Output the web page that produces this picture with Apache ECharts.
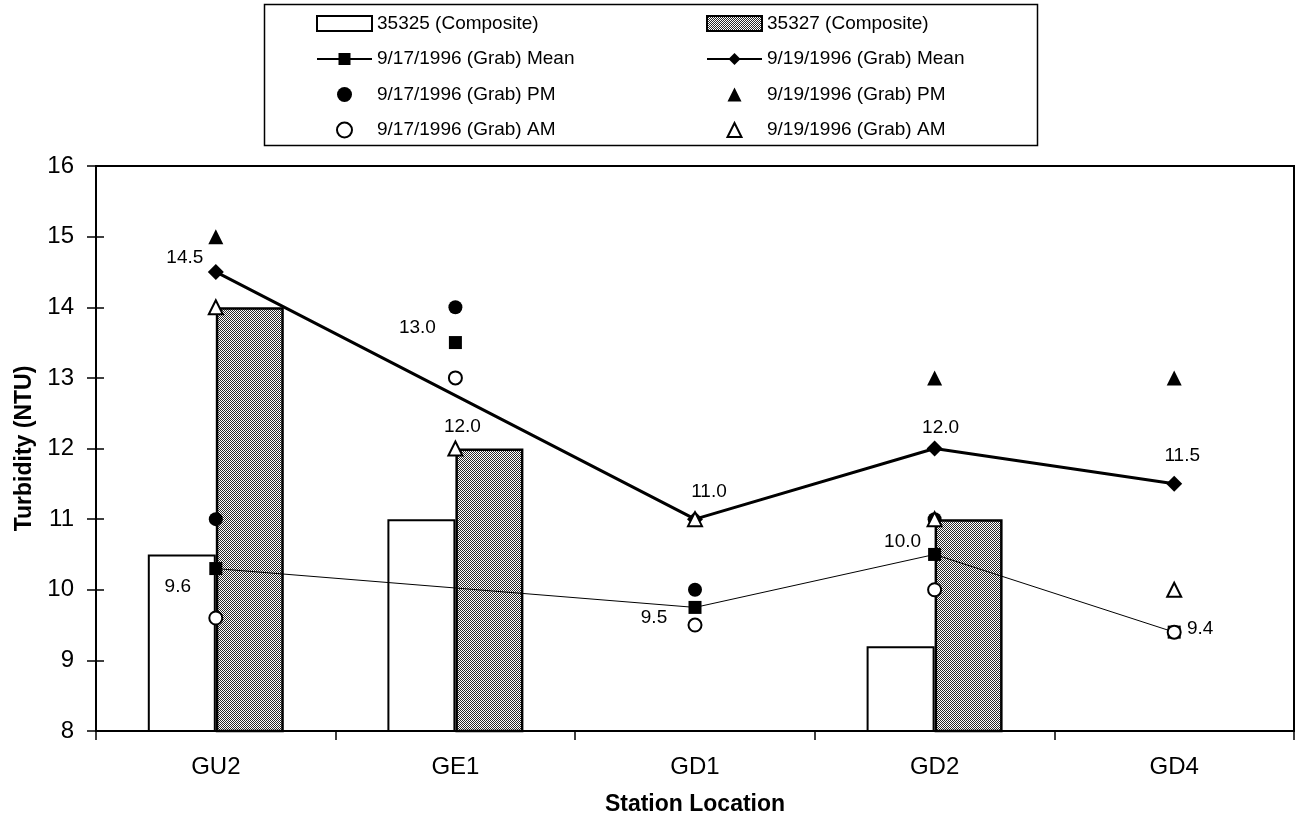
<!DOCTYPE html>
<html>
<head>
<meta charset="utf-8">
<script src="https://cdn.jsdelivr.net/npm/echarts@6/dist/echarts.min.js"></script>
<style>
  html, body { margin: 0; padding: 0; background: #fff; }
  #chart { width: 1299px; height: 821px; }
</style>
</head>
<body>
<div id="chart"></div>
<script>
// Station categories along the x axis
const stations = ['GU2', 'GE1', 'GD1', 'GD2', 'GD4'];

// Composite samples (bars)
const composite35325 = [10.5, 11.0, null, 9.2, null];
const composite35327 = [14.0, 12.0, null, 11.0, null];

// Grab samples, 9/17/1996
const grab0917Mean = [10.3, 13.5, 9.75, 10.5, 9.4];
const grab0917PM = [11.0, 14.0, 10.0, 11.0, null];
const grab0917AM = [9.6, 13.0, 9.5, 10.0, 9.4];

// Grab samples, 9/19/1996
const grab0919Mean = [14.5, null, 11.0, 12.0, 11.5];
const grab0919PM = [15.0, null, null, 13.0, 13.0];
const grab0919AM = [14.0, 12.0, 11.0, 11.0, 10.0];

// Stations whose 9/17 mean is plotted but not joined by the mean line
const grab0917LineSkip = ['GE1'];

// Turbidity axis range
const yMin = 8, yMax = 16, yStep = 1;

// Value-label placement (pixel offsets from the marker centre)
const labelOffsets0917AM = {
  GU2: [-38, -31], GE1: [-38, -50], GD1: [-41, -7], GD2: [-32, -48], GD4: [26, -3]
};
const labelOffsets0919Mean = {
  GU2: [-31, -14], GD1: [14, -27], GD2: [6, -21], GD4: [8, -28]
};
const labelOffsets0919AM = { GE1: [7, -22] };

const FONT = "'Liberation Sans', Arial, sans-serif";

// Fine dotted fill used for the 35327 bars
function hatchPattern() {
  const c = document.createElement('canvas');
  c.width = 4; c.height = 4;
  const g = c.getContext('2d');
  g.fillStyle = '#fff';
  g.fillRect(0, 0, 4, 4);
  g.fillStyle = '#2a2a2a';
  for (let y = 0; y < 4; y++) {
    for (let x = 0; x < 4; x++) {
      if ((x + y) % 2 === 0) g.fillRect(x, y, 1, 1);
    }
  }
  return c;
}

// Legend triangle centred in the 55x15 icon box (the outer moves fix the box size)
const legendTriangle = 'path://M0,0 M55,15 M27.5,0.5 L34.5,14.5 L20.5,14.5 Z';

function withLabels(values, offsets) {
  return values.map((v, i) => {
    const off = offsets[stations[i]];
    if (v == null || !off) return v;
    return { value: v, label: { show: true, position: 'inside', offset: off } };
  });
}

const valueLabel = {
  show: false,
  color: '#000',
  opacity: 1,
  fontSize: 19,
  fontFamily: FONT,
  formatter: p => Number(p.value).toFixed(1)
};

const line0917 = grab0917Mean.map((v, i) => grab0917LineSkip.includes(stations[i]) ? null : v);
const loose0917 = grab0917Mean.map((v, i) => grab0917LineSkip.includes(stations[i]) ? v : null);

const NAMES = {
  c25: '35325 (Composite)',
  c27: '35327 (Composite)',
  m17: '9/17/1996 (Grab) Mean',
  m19: '9/19/1996 (Grab) Mean',
  p17: '9/17/1996 (Grab) PM',
  p19: '9/19/1996 (Grab) PM',
  a17: '9/17/1996 (Grab) AM',
  a19: '9/19/1996 (Grab) AM'
};

const hatch = { image: hatchPattern(), repeat: 'repeat' };
const hollow = { color: '#fff', borderColor: '#000', borderWidth: 2, opacity: 1 };
const solid = { color: '#000', opacity: 1 };

const legendCommon = {
  orient: 'vertical',
  top: 14,
  itemWidth: 55,
  itemHeight: 15,
  itemGap: 16.5,
  selectedMode: false,
  padding: 0,
  textStyle: { color: '#000', fontSize: 19, fontFamily: FONT }
};

const option = {
  animation: false,
  backgroundColor: '#fff',
  textStyle: { fontFamily: FONT },
  grid: {
    left: 96, top: 166, width: 1198, height: 566,
    show: true, borderColor: '#000', borderWidth: 2, backgroundColor: 'transparent'
  },
  legend: [
    Object.assign({}, legendCommon, {
      left: 316,
      data: [
        { name: NAMES.c25, icon: 'rect' },
        { name: NAMES.m17 },
        { name: NAMES.p17 },
        { name: NAMES.a17 }
      ]
    }),
    Object.assign({}, legendCommon, {
      left: 706,
      data: [
        { name: NAMES.c27, icon: 'rect' },
        { name: NAMES.m19 },
        { name: NAMES.p19, icon: legendTriangle },
        { name: NAMES.a19, icon: legendTriangle }
      ]
    })
  ],
  graphic: [{
    type: 'rect',
    shape: { x: 264.5, y: 4.5, width: 773, height: 141 },
    style: { fill: 'none', stroke: '#000', lineWidth: 1.5 },
    silent: true
  }],
  xAxis: {
    type: 'category',
    data: stations,
    boundaryGap: true,
    axisLine: { lineStyle: { color: '#000', width: 2 } },
    axisTick: { show: true, length: 9, lineStyle: { color: '#000', width: 1.5 } },
    axisLabel: { color: '#000', fontSize: 24, fontFamily: FONT, margin: 24 },
    splitLine: { show: false },
    name: 'Station Location',
    nameLocation: 'middle',
    nameGap: 62,
    nameTextStyle: { color: '#000', fontSize: 23, fontWeight: 'bold', fontFamily: FONT }
  },
  yAxis: [{
    type: 'value',
    min: yMin, max: yMax, interval: yStep,
    axisLine: { show: true, lineStyle: { color: '#000', width: 2 } },
    axisTick: { show: true, length: 9, lineStyle: { color: '#000', width: 1.5 } },
    axisLabel: { color: '#000', fontSize: 24, fontFamily: FONT, margin: 22 },
    splitLine: { show: false },
    name: 'Turbidity (NTU)',
    nameLocation: 'middle',
    nameGap: 60,
    nameTextStyle: { color: '#000', fontSize: 23, fontWeight: 'bold', fontFamily: FONT }
  }, {
    // inner half of the crossing tick marks
    type: 'value',
    position: 'left',
    min: yMin, max: yMax, interval: yStep,
    axisLine: { show: false },
    axisTick: { show: true, inside: true, length: 8, lineStyle: { color: '#000', width: 1.5 } },
    axisLabel: { show: false },
    splitLine: { show: false }
  }],
  series: [
    {
      name: NAMES.c25, type: 'bar', data: composite35325,
      barWidth: 68, barGap: '0%',
      itemStyle: { color: '#fff', borderColor: '#000', borderWidth: 2 },
      emphasis: { disabled: true }
    },
    {
      name: NAMES.c27, type: 'bar', data: composite35327,
      barWidth: 68, barGap: '0%',
      itemStyle: { color: hatch, borderColor: '#000', borderWidth: 2.5 },
      emphasis: { disabled: true }
    },
    {
      name: NAMES.m17, type: 'line', data: line0917, connectNulls: true,
      symbol: 'rect', symbolSize: 13, showAllSymbol: true,
      lineStyle: { color: '#000', width: 1 },
      itemStyle: solid,
      z: 3,
      emphasis: { disabled: true }
    },
    {
      name: NAMES.m19, type: 'line', data: withLabels(grab0919Mean, labelOffsets0919Mean),
      connectNulls: true,
      symbol: 'diamond', symbolSize: 16, showAllSymbol: true,
      lineStyle: { color: '#000', width: 3 },
      itemStyle: solid,
      label: valueLabel,
      z: 3,
      emphasis: { disabled: true }
    },
    {
      name: NAMES.m17, type: 'scatter', data: loose0917,
      symbol: 'rect', symbolSize: 13,
      itemStyle: solid,
      z: 4,
      emphasis: { disabled: true }
    },
    {
      name: NAMES.p17, type: 'scatter', data: grab0917PM,
      symbol: 'circle', symbolSize: 14,
      itemStyle: solid,
      z: 5,
      emphasis: { disabled: true }
    },
    {
      name: NAMES.p19, type: 'scatter', data: grab0919PM,
      symbol: 'triangle', symbolSize: 15,
      itemStyle: solid,
      z: 5,
      emphasis: { disabled: true }
    },
    {
      name: NAMES.a17, type: 'scatter', data: withLabels(grab0917AM, labelOffsets0917AM),
      symbol: 'circle', symbolSize: 13,
      itemStyle: hollow,
      label: valueLabel,
      z: 6,
      emphasis: { disabled: true }
    },
    {
      name: NAMES.a19, type: 'scatter', data: withLabels(grab0919AM, labelOffsets0919AM),
      symbol: 'triangle', symbolSize: 14,
      itemStyle: hollow,
      label: valueLabel,
      z: 6,
      emphasis: { disabled: true }
    }
  ]
};

const chart = echarts.init(document.getElementById('chart'), null, { renderer: 'canvas' });
chart.setOption(option);
</script>
</body>
</html>
